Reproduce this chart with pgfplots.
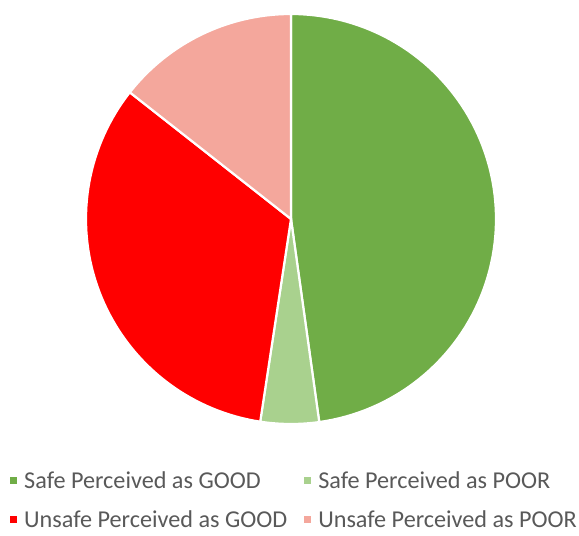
\documentclass[border=0pt]{standalone}
\usepackage{pgfplots}
\pgfplotsset{compat=1.18}
\usepackage{fontspec}
\setmainfont{Carlito}
\definecolor{cSG}{HTML}{70AD47}
\definecolor{cSP}{HTML}{A9D18E}
\definecolor{cUG}{HTML}{FF0000}
\definecolor{cUP}{HTML}{F4A79C}
\definecolor{txt}{HTML}{595959}
% slice values (percent)
\def\vSG{47.8}
\def\vSP{4.6}
\def\vUG{33.2}
\def\vUP{14.4}
\pgfmathsetmacro{\aA}{90}
\pgfmathsetmacro{\aB}{\aA-3.6*\vSG}
\pgfmathsetmacro{\aC}{\aB-3.6*\vSP}
\pgfmathsetmacro{\aD}{\aC-3.6*\vUG}
\pgfmathsetmacro{\aE}{\aD-3.6*\vUP}
\begin{document}
\begin{tikzpicture}
\begin{axis}[
  scale only axis, width=579pt, height=536pt,
  xmin=0, xmax=579, ymin=0, ymax=536,
  hide axis, clip=false,
  legend columns=2,
  legend style={at={(axis cs:7,69)}, anchor=north west, draw=none, fill=none,
    font=\fontsize{24.2}{28}\selectfont, text=txt,
    row sep=17pt, column sep=0pt,
    /tikz/every odd column/.append style={column sep=5pt},
    /tikz/every even column/.append style={column sep=15pt}},
  legend cell align=left,
  legend image code/.code={\fill[#1,draw=none] (0pt,-3.5pt) rectangle (7pt,3.5pt);},
]
\addplot[fill=cSG, draw=white, line width=2.2pt, domain=\aB:\aA, samples=90, variable=\t, forget plot]
  ({291+205*cos(t)},{317+205*sin(t)}) -- (axis cs:291,317) -- cycle;
\addplot[fill=cSP, draw=white, line width=2.2pt, domain=\aC:\aB, samples=20, variable=\t, forget plot]
  ({291+205*cos(t)},{317+205*sin(t)}) -- (axis cs:291,317) -- cycle;
\addplot[fill=cUG, draw=white, line width=2.2pt, domain=\aD:\aC, samples=70, variable=\t, forget plot]
  ({291+205*cos(t)},{317+205*sin(t)}) -- (axis cs:291,317) -- cycle;
\addplot[fill=cUP, draw=white, line width=2.2pt, domain=\aE:\aD, samples=40, variable=\t, forget plot]
  ({291+205*cos(t)},{317+205*sin(t)}) -- (axis cs:291,317) -- cycle;
\addlegendimage{fill=cSG}
\addlegendentry{Safe Perceived as GOOD}
\addlegendimage{fill=cSP}
\addlegendentry{Safe Perceived as POOR}
\addlegendimage{fill=cUG}
\addlegendentry{Unsafe Perceived as GOOD}
\addlegendimage{fill=cUP}
\addlegendentry{Unsafe Perceived as POOR}
\end{axis}
\pgfresetboundingbox
\path (0pt,0pt) rectangle (579pt,536pt);
\end{tikzpicture}
\end{document}
